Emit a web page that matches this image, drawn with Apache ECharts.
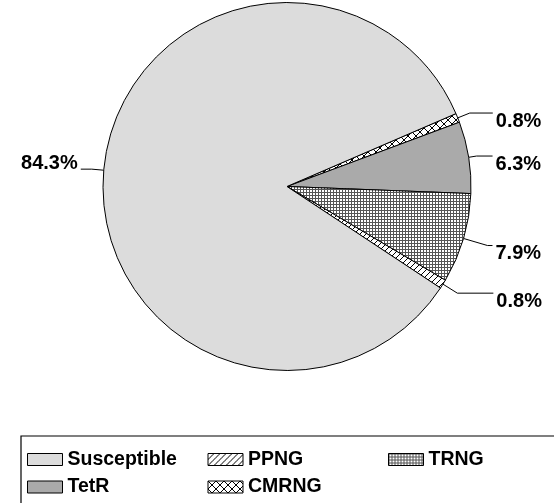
<!DOCTYPE html>
<html>
<head>
    <meta charset="utf-8">
    <script type="text/javascript" src="https://cdn.jsdelivr.net/npm/echarts@6/dist/echarts.min.js"></script>
    <style type="text/css">
        *{
            margin: 0;
            padding: 0;
        }
        #main{
            width: 554px;
            height: 503px;
            background: #ffffff;
        }
    </style>
</head>
<body>
    <div id="main"></div>
    <script type="text/javascript">
        // slices in clockwise order, starting at the top edge of CMRNG
        var names = ['CMRNG', 'TetR', 'TRNG', 'PPNG', 'Susceptible'];
        var values = [0.8, 6.3, 7.9, 0.8, 84.3];
        var legendRow1 = ['Susceptible', 'PPNG', 'TRNG'];
        var legendRow2 = ['TetR', 'CMRNG'];

        // hatch patterns drawn on small canvases
        function makeTile(size, draw) {
            var c = document.createElement('canvas');
            c.width = size;
            c.height = size;
            var ctx = c.getContext('2d');
            ctx.fillStyle = '#ffffff';
            ctx.fillRect(0, 0, size, size);
            ctx.strokeStyle = '#000000';
            ctx.lineWidth = 1;
            draw(ctx, size);
            return { image: c, repeat: 'repeat' };
        }
        var diag = makeTile(6, function (ctx, s) {
            ctx.beginPath();
            ctx.moveTo(0, s); ctx.lineTo(s, 0);
            ctx.moveTo(-1, 1); ctx.lineTo(1, -1);
            ctx.moveTo(s - 1, s + 1); ctx.lineTo(s + 1, s - 1);
            ctx.stroke();
        });
        var cross = makeTile(8, function (ctx, s) {
            ctx.beginPath();
            ctx.moveTo(0, s); ctx.lineTo(s, 0);
            ctx.moveTo(0, 0); ctx.lineTo(s, s);
            ctx.stroke();
        });
        var grid = makeTile(3, function (ctx, s) {
            ctx.fillStyle = '#555555';
            ctx.fillRect(0, 0, s, 1);
            ctx.fillRect(0, 0, 1, s);
        });

        var fills = {
            'Susceptible': '#dcdcdc',
            'TetR': '#aaaaaa',
            'PPNG': diag,
            'CMRNG': cross,
            'TRNG': grid
        };
        // label line tuning per slice: radial length, horizontal length
        var lineLen = { 'CMRNG': [13, 23], 'TetR': [8, 16], 'TRNG': [25, 5], 'PPNG': [17, 36], 'Susceptible': [12, 11] };

        var total = values.reduce(function (a, b) { return a + b; }, 0);
        var startAngle = -2.2 + 360 * (values[0] + values[1]) / total;

        var pieData = names.map(function (n, i) {
            var item = {
                name: n,
                value: values[i],
                itemStyle: { color: fills[n] },
                labelLine: { length: lineLen[n][0], length2: lineLen[n][1] }
            };
            if (n === 'Susceptible') {
                // text sits above the line end on the left side
                item.label = {
                    formatter: function (p) { return p.value.toFixed(1) + '%\n'; },
                    lineHeight: 12
                };
            }
            return item;
        });

        function legendRow(data, top, padding, border) {
            return {
                data: data,
                left: 21,
                top: top,
                width: 570,
                orient: 'horizontal',
                padding: padding,
                itemGap: 0,
                itemWidth: 35,
                itemHeight: 12,
                icon: 'rect',
                borderColor: '#000000',
                borderWidth: border,
                itemStyle: { borderColor: '#000000', borderWidth: 1 },
                formatter: function (name) { return '{a|' + name + '}'; },
                textStyle: {
                    rich: {
                        a: {
                            fontFamily: 'Liberation Sans',
                            fontWeight: 'bold',
                            fontSize: 19.5,
                            color: '#000000',
                            width: 140,
                            lineHeight: 16
                        }
                    }
                }
            };
        }

        var myChart = echarts.init(document.getElementById('main'));
        var option = {
            backgroundColor: '#ffffff',
            animation: false,
            legend: [
                legendRow(legendRow1, 436, [13.5, 6, 35.5, 6], 1.2),
                legendRow(legendRow2, 477, [0, 6, 0, 6], 0)
            ],
            series: [{
                type: 'pie',
                center: [287, 186.5],
                radius: 184,
                startAngle: startAngle,
                clockwise: true,
                avoidLabelOverlap: false,
                data: pieData,
                itemStyle: {
                    borderColor: '#000000',
                    borderWidth: 1
                },
                label: {
                    show: true,
                    position: 'outside',
                    alignTo: 'none',
                    distanceToLabelLine: 3,
                    formatter: function (p) { return '\n' + p.value.toFixed(1) + '%'; },
                    fontFamily: 'Liberation Sans',
                    fontWeight: 'bold',
                    fontSize: 20,
                    lineHeight: 16,
                    color: '#000000'
                },
                labelLine: {
                    show: true,
                    lineStyle: { color: '#000000', width: 1 }
                },
                emphasis: { disabled: true }
            }]
        };
        myChart.setOption(option);
    </script>
</body>
</html>
